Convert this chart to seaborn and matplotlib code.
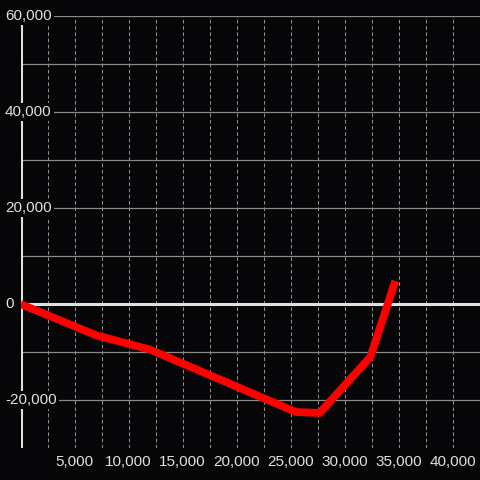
import matplotlib
matplotlib.use("Agg")
import matplotlib.pyplot as plt
import seaborn as sns
import pandas as pd

# dane
x_vals = [0, 7000, 12000, 25500, 27700, 32400, 34700]
y_vals = [0, -6500, -9500, -22500, -22700, -11000, 4800]

y_grid = [-20000, -10000, 10000, 20000, 30000, 40000, 50000, 60000]
y_labels = [-20000, 0, 20000, 40000, 60000]
x_grid = list(range(2500, 42500, 2500))
x_labels = list(range(5000, 42500, 5000))

bg = "#060608"
fg = "#e0e0e0"

sns.set_style("dark", {"axes.facecolor": bg, "figure.facecolor": bg})
plt.rcParams["font.family"] = ["Liberation Sans", "DejaVu Sans"]

df = pd.DataFrame({"x": x_vals, "y": y_vals})

fig = plt.figure(figsize=(4.8, 4.8), dpi=100)
ax = fig.add_axes([20.5 / 480, 32 / 480, 459.5 / 480, 432 / 480])
ax.set_facecolor(bg)

ax.set_xlim(0, 42546)
ax.set_ylim(-30000, 60000)

# siatka
for gy in y_grid:
    ax.axhline(gy, color="#8a8a8a", lw=0.9, zorder=1)
for gx in x_grid:
    ax.axvline(gx, color="#8e8e8e", lw=0.75, ls=(0, (3.5, 2.5)), zorder=1)

# os y i linia zera
ax.axvline(0, color=fg, lw=2.2, zorder=2)
ax.axhline(0, color=fg, lw=2.2, zorder=2)

sns.lineplot(data=df, x="x", y="y", color="#ff0000", lw=5.6, ax=ax,
             zorder=3, solid_capstyle="butt", solid_joinstyle="miter")

for s in ax.spines.values():
    s.set_visible(False)

ax.set_yticks([])
ax.set_xticks(x_labels)
ax.set_xticklabels([f"{v:,}" for v in x_labels])
ax.tick_params(axis="x", length=0, pad=5, labelsize=11, colors=fg)
ax.set_xlabel("")
ax.set_ylabel("")

for v in y_labels:
    ax.text(-15.5 / 459.5, v, f"{v:,}", transform=ax.get_yaxis_transform(),
            ha="left", va="center", fontsize=11, color=fg, zorder=5, clip_on=False,
            bbox=dict(facecolor=bg, edgecolor="none", pad=1.5))

fig.savefig("out.png", dpi=100, facecolor=bg)
